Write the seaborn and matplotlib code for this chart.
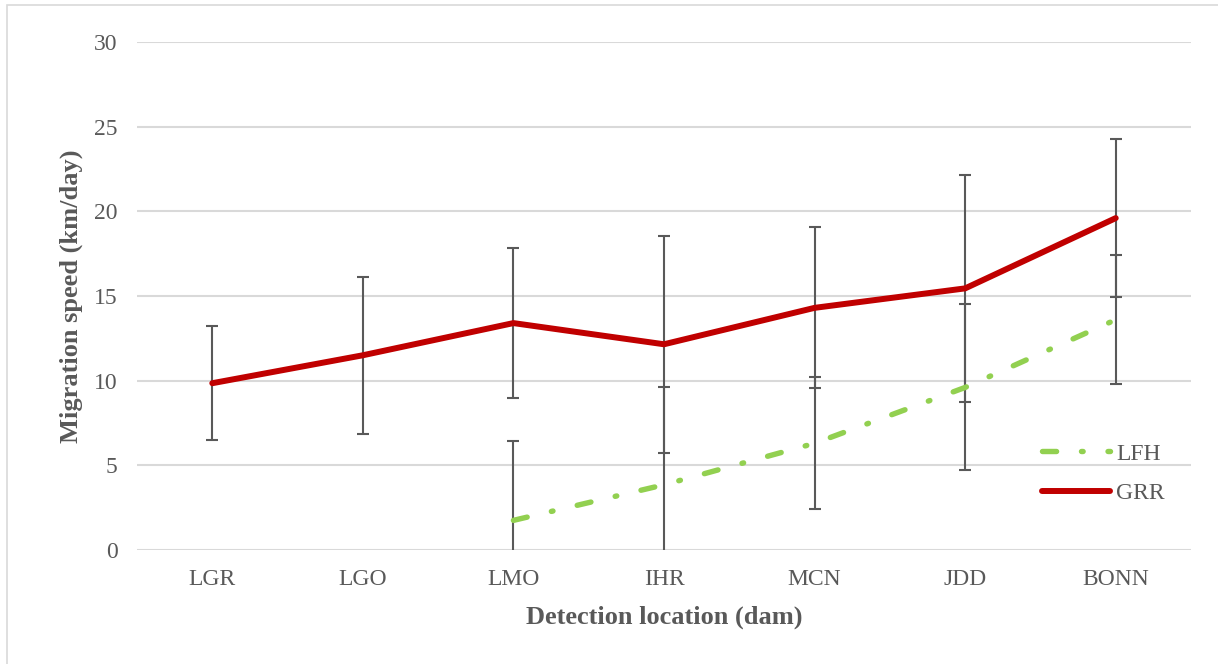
import matplotlib
matplotlib.use("Agg")
import matplotlib.pyplot as plt
from matplotlib.lines import Line2D
import numpy as np
import pandas as pd
import seaborn as sns

# Dam detection sites, upstream to downstream
locations = ["LGR", "LGO", "LMO", "IHR", "MCN", "JDD", "BONN"]

# Mean migration speed (km/day) and error-bar half widths per group
grr_speed = [9.85, 11.5, 13.4, 12.15, 14.3, 15.45, 19.6]
grr_err = [3.35, 4.65, 4.45, 6.4, 4.75, 6.7, 4.65]

lfh_locations = ["LMO", "IHR", "MCN", "JDD", "BONN"]
lfh_speed = [1.75, 3.85, 6.3, 9.6, 13.6]
lfh_err = [4.7, 5.75, 3.9, 4.9, 3.8]

yticks = [0, 5, 10, 15, 20, 25, 30]

sns.set_theme(style="white")
plt.rcParams["font.family"] = ["Liberation Serif", "DejaVu Serif"]

TEXT = "#595959"
GRID = "#D9D9D9"
RED = "#C00000"
GREEN = "#92D050"
LW_RED = 4.3
LW_GREEN = 3.9
LFH_STYLE = (0, (2.6, 4.6, 0.3, 4.6))

df = pd.concat([
    pd.DataFrame({"location": locations, "speed": grr_speed, "group": "GRR"}),
    pd.DataFrame({"location": lfh_locations, "speed": lfh_speed, "group": "LFH"}),
], ignore_index=True)
pos = {name: i for i, name in enumerate(locations)}
df["pos"] = df["location"].map(pos)

W, H = 1218, 664
fig = plt.figure(figsize=(W / 100, H / 100), dpi=100)
ax = fig.add_axes([137 / W, 1 - 550 / H, (1191 - 137) / W, (550 - 42) / H])

# series lines
n0 = len(ax.lines)
sns.lineplot(data=df[df.group == "LFH"], x="pos", y="speed", ax=ax, color=GREEN,
             linewidth=LW_GREEN, sort=False, legend=False, zorder=3)
lfh_line = ax.lines[n0]
sns.lineplot(data=df[df.group == "GRR"], x="pos", y="speed", ax=ax, color=RED,
             linewidth=LW_RED, sort=False, legend=False, zorder=4)
grr_line = ax.lines[n0 + 1]
for ln in (lfh_line, grr_line):
    ln.set_solid_capstyle("round")
    ln.set_dash_capstyle("round")
    ln.set_solid_joinstyle("round")
lfh_line.set_linestyle(LFH_STYLE)

# error bars underneath the lines
for locs, vals, errs in ((locations, grr_speed, grr_err),
                         (lfh_locations, lfh_speed, lfh_err)):
    ax.errorbar([pos[l] for l in locs], vals, yerr=errs, fmt="none",
                ecolor=TEXT, elinewidth=1.5, capsize=4.6, capthick=1.5,
                zorder=2)

ax.set_xlim(-0.5, len(locations) - 0.5)
ax.set_ylim(0, 30)
ax.set_xticks(range(len(locations)))
ax.set_xticklabels(locations)
ax.set_yticks(yticks)
ax.set_yticklabels([str(v) for v in yticks])
ax.tick_params(axis="both", length=0, labelsize=17, labelcolor=TEXT)
ax.tick_params(axis="x", pad=14)
ax.tick_params(axis="y", pad=14)
ax.grid(axis="y", color=GRID, linewidth=1.5)
ax.grid(axis="x", visible=False)
ax.set_axisbelow(True)
for s in ax.spines.values():
    s.set_visible(False)

ax.set_xlabel("Detection location (dam)", fontsize=19, fontweight="bold",
              color=TEXT)
ax.set_ylabel("Migration speed (km/day)", fontsize=19, fontweight="bold",
              color=TEXT)
ax.xaxis.label.set_va("center")
ax.yaxis.label.set_va("center")
ax.xaxis.set_label_coords(0.5, (550 - 617) / 508)
ax.yaxis.set_label_coords((71 - 137) / 1054, 0.5)

handles = [
    Line2D([], [], color=GREEN, linewidth=LW_GREEN, linestyle=LFH_STYLE,
           dash_capstyle="round"),
    Line2D([], [], color=RED, linewidth=LW_RED, solid_capstyle="round"),
]
leg = fig.legend(handles, ["LFH", "GRR"], loc="center left",
                 bbox_to_anchor=(1042 / W, 1 - 473.5 / H), frameon=False,
                 fontsize=17, handlelength=2.9, handletextpad=0.25,
                 labelspacing=0.75, borderpad=0, borderaxespad=0)
for t in leg.get_texts():
    t.set_color(TEXT)

# chart-area outline
fig.add_artist(plt.Rectangle((7 / W, -0.05), 1.2, 1 - 5 / H + 0.05,
                             transform=fig.transFigure, fill=False,
                             edgecolor=GRID, linewidth=1.2))

fig.savefig("out.png", dpi=100)
